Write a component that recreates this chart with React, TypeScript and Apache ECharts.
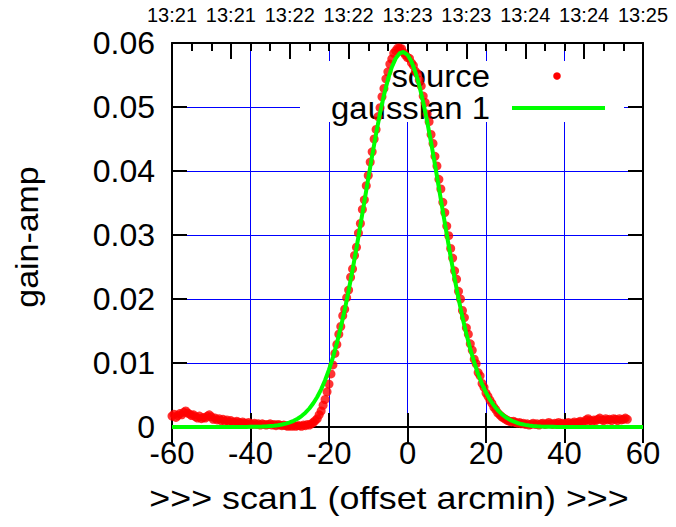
import React, { useEffect, useRef } from "react";
import * as echarts from "echarts";

// top-axis time labels (one per 15 arcmin)
const timeLabels = ["13:21", "13:21", "13:22", "13:22", "13:23", "13:23", "13:24", "13:24", "13:25"];

// grid line positions
const gridXValues = [-40, -20, 0, 20, 40];
const gridYValues = [0.01, 0.02, 0.03, 0.04, 0.05];

// source points: x from -60 step 0.5
const sourceStart = -60;
const sourceStep = 0.5;
const sourceValues = [
  0.0017, 0.0020, 0.0015, 0.0018, 0.0021, 0.0019, 0.0023, 0.0025, 0.0022, 0.0020,
  0.0018, 0.0019, 0.0016, 0.0014, 0.0017, 0.0013, 0.0015, 0.0014, 0.0017, 0.0019,
  0.0016, 0.0012, 0.0014, 0.0011, 0.0013, 0.0010, 0.0012, 0.0009, 0.0011, 0.0008,
  0.0010, 0.0008, 0.0007, 0.0009, 0.0007, 0.0006, 0.0008, 0.0006, 0.0005, 0.0007,
  0.0005, 0.0004, 0.0006, 0.0004, 0.0005, 0.0003, 0.0005, 0.0004, 0.0003, 0.0004,
  0.0005, 0.0003, 0.0004, 0.0002, 0.0004, 0.0003, 0.0002, 0.0003, 0.0002, 0.0001,
  0.0002,
  0.0001, 0.0002, 0.0001, 0.0002, 0.0002, 0.0001, 0.0003, 0.0002, 0.0004, 0.0003,
  0.0005, 0.0007, 0.0010, 0.0013, 0.0019, 0.0025, 0.0034, 0.0043, 0.0055, 0.0067,
  0.0083, 0.0097, 0.0115, 0.0129, 0.0145, 0.0157,
  0.0174, 0.0184, 0.0202, 0.0214, 0.0234, 0.0247, 0.0268, 0.0281, 0.0303, 0.0318,
  0.0340, 0.0355, 0.0377, 0.0393, 0.0414, 0.0430, 0.0450, 0.0465, 0.0485, 0.0499,
  0.0516, 0.0529, 0.0544, 0.0555, 0.0567, 0.0575, 0.0584, 0.0588, 0.0592, 0.0592,
  0.0591, 0.0585, 0.0581,
  0.0577, 0.0576, 0.0569, 0.0565, 0.0556, 0.0552, 0.0542, 0.0533, 0.0517, 0.0507,
  0.0489, 0.0477, 0.0457, 0.0443, 0.0423, 0.0408, 0.0387, 0.0372, 0.0351, 0.0335,
  0.0314, 0.0299, 0.0279, 0.0264, 0.0244, 0.0231, 0.0212, 0.0200, 0.0182, 0.0171,
  0.0155, 0.0145, 0.0130, 0.0120, 0.0106, 0.0099, 0.0085, 0.0080, 0.0068, 0.0062,
  0.0053, 0.0048, 0.0042, 0.0037, 0.0031, 0.0027, 0.0022, 0.0019, 0.0016, 0.0014,
  0.0012, 0.0010, 0.0009, 0.0008, 0.0009, 0.0007, 0.0006, 0.0007, 0.0005, 0.0006,
  0.0004,
  0.0005, 0.0003, 0.0004, 0.0006, 0.0004, 0.0005, 0.0003, 0.0005, 0.0006, 0.0004,
  0.0005, 0.0007, 0.0005, 0.0004, 0.0006, 0.0005, 0.0007, 0.0005, 0.0006, 0.0004,
  0.0006, 0.0007, 0.0005, 0.0006, 0.0008, 0.0006, 0.0007, 0.0009, 0.0007, 0.0008,
  0.0011, 0.0013, 0.0010, 0.0009, 0.0011, 0.0010, 0.0012, 0.0014, 0.0011, 0.0010,
  0.0013, 0.0011, 0.0012, 0.0010, 0.0013, 0.0012, 0.0010, 0.0013, 0.0011, 0.0012,
  0.0014, 0.0012,
];

// gaussian fit: x from -60 step 1
const fitStart = -60;
const fitStep = 1;
const fitValues = [
  0, 0, 0, 0, 0, 0, 0, 0, 0, 0,
  0, 0, 0, 0, 0, 0, 0, 0, 0, 0,
  0.00002, 0.00003, 0.00004, 0.00006, 0.00009, 0.00014, 0.00019, 0.00027, 0.00038, 0.00052,
  0.00071, 0.00097, 0.00129, 0.00171, 0.00223, 0.00289, 0.0037, 0.00469, 0.00588, 0.0073,
  0.00896, 0.01088, 0.01308, 0.01555, 0.0183, 0.0213, 0.02454, 0.02796, 0.03153, 0.03518,
  0.03883, 0.04241, 0.04584, 0.04901, 0.05185, 0.05427, 0.05621, 0.0576, 0.0584, 0.05859,
  0.05815, 0.05711, 0.05549, 0.05336, 0.05076, 0.04777, 0.04449, 0.041, 0.03737, 0.03371,
  0.03009, 0.02657, 0.02322, 0.02007, 0.01716, 0.01453, 0.01217, 0.01008, 0.00826, 0.0067,
  0.00538, 0.00427, 0.00336, 0.00261, 0.00201, 0.00153, 0.00115, 0.00086, 0.00063, 0.00046,
  0.00033, 0.00024, 0.00017, 0.00012, 0.00008, 0.00005, 0.00004, 0.00002,
  0, 0, 0, 0, 0, 0, 0, 0, 0, 0,
  0, 0, 0, 0, 0, 0, 0, 0, 0, 0,
  0, 0, 0,
];

const FONT = "'Liberation Sans', Arial, Helvetica, sans-serif";
const BLACK = "#000000";
const GRID_BLUE = "#0000ff";

export default function App() {
  const ref = useRef<HTMLDivElement>(null);

  useEffect(() => {
    if (!ref.current) return;
    const chart = echarts.init(ref.current, undefined, { renderer: "svg" });

    const axisLine = { show: true, onZero: false, lineStyle: { color: BLACK, width: 2 } };
    const tick = (len: number) => ({ show: true, inside: true, length: len, lineStyle: { color: BLACK, width: 2 } });

    const option: any = {
      animation: false,
      backgroundColor: "#ffffff",
      textStyle: { fontFamily: FONT },
      grid: { left: 172, top: 43, right: 33, bottom: 100, containLabel: false },
      xAxis: [
        {
          type: "value",
          position: "bottom",
          min: -60,
          max: 60,
          interval: 20,
          axisLine,
          axisTick: tick(14),
          axisLabel: {
            show: true, margin: 13, fontSize: 31, lineHeight: 26, color: BLACK, fontFamily: FONT,
            showMinLabel: true, showMaxLabel: true,
          },
          splitLine: { show: false },
        },
        {
          type: "value",
          position: "top",
          min: -60,
          max: 60,
          interval: 15,
          axisLine,
          axisTick: tick(16),
          minorTick: { show: true, splitNumber: 3, length: 8, lineStyle: { color: BLACK, width: 2 } },
          minorSplitLine: { show: false },
          axisLabel: {
            show: true,
            margin: 18,
            fontSize: 20,
            color: BLACK,
            fontFamily: FONT,
            showMinLabel: true,
            showMaxLabel: true,
            formatter: (v: number) => timeLabels[Math.round((v + 60) / 15)] ?? "",
          },
          splitLine: { show: false },
        },
        {
          type: "value",
          position: "top",
          min: -60,
          max: 60,
          interval: 20,
          axisLine: { show: false },
          axisTick: tick(16),
          axisLabel: { show: false },
          splitLine: { show: false },
        },
      ],
      yAxis: [
        {
          type: "value",
          position: "left",
          min: 0,
          max: 0.06,
          interval: 0.01,
          axisLine,
          axisTick: tick(15),
          axisLabel: {
            show: true,
            margin: 17,
            fontSize: 32,
            lineHeight: 24,
            color: BLACK,
            fontFamily: FONT,
            formatter: (v: number) => (Math.abs(v) < 1e-9 ? "0" : v.toFixed(2)),
          },
          splitLine: { show: false },
        },
        {
          type: "value",
          position: "right",
          min: 0,
          max: 0.06,
          interval: 0.01,
          axisLine,
          axisTick: tick(15),
          axisLabel: { show: false },
          splitLine: { show: false },
        },
      ],
      graphic: [
        { type: "rect", z: 1, silent: true, shape: { x: 300, y: 61, width: 324, height: 61 }, style: { fill: "#ffffff" } },
        {
          type: "text", z: 1, x: 490, y: 76, scaleX: 1.06,
          style: { text: "source", fontSize: 31, fontFamily: FONT, fill: BLACK, align: "right", verticalAlign: "middle" },
        },
        {
          type: "text", z: 1, x: 490, y: 108, scaleX: 1.06,
          style: { text: "gaussian 1", fontSize: 31, fontFamily: FONT, fill: BLACK, align: "right", verticalAlign: "middle" },
        },
        { type: "circle", z: 5, shape: { cx: 557, cy: 76, r: 3.8 }, style: { fill: "#ff0000" } },
        { type: "line", z: 5, shape: { x1: 512, y1: 108, x2: 605, y2: 108 }, style: { stroke: "#00ff00", lineWidth: 4 } },
        {
          type: "text", z: 5, x: 389, y: 498, scaleX: 1.12,
          style: { text: ">>> scan1 (offset arcmin) >>>", fontSize: 32, fontFamily: FONT, fill: BLACK, align: "center", verticalAlign: "middle" },
        },
        {
          type: "text", z: 5, x: 27, y: 237, rotation: Math.PI / 2, scaleX: 1.06,
          style: { text: "gain-amp", fontSize: 32, fontFamily: FONT, fill: BLACK, align: "center", verticalAlign: "middle" },
        },
      ],
      series: [
        {
          type: "line",
          name: "grid",
          xAxisIndex: 0,
          yAxisIndex: 0,
          silent: true,
          z: 0,
          zlevel: 0,
          data: [],
          markLine: {
            silent: true,
            z: 0,
            symbol: ["none", "none"],
            label: { show: false },
            lineStyle: { color: GRID_BLUE, width: 1, type: "solid", opacity: 1 },
            emphasis: { disabled: true },
            data: [
              ...gridXValues.map((v) => ({ xAxis: v })),
              ...gridYValues.map((v) => ({ yAxis: v })),
            ],
          },
        },
        {
          type: "scatter",
          name: "source",
          xAxisIndex: 0,
          yAxisIndex: 0,
          silent: true,
          z: 2,
          symbol: "circle",
          symbolSize: 9,
          itemStyle: { color: "#ff0000" },
          data: sourceValues.map((v, i) => [sourceStart + i * sourceStep, v]),
        },
        {
          type: "line",
          name: "gaussian 1",
          xAxisIndex: 0,
          yAxisIndex: 0,
          silent: true,
          z: 3,
          showSymbol: false,
          symbol: "none",
          lineStyle: { color: "#00ff00", width: 4 },
          data: fitValues.map((v, i) => [fitStart + i * fitStep, v]),
        },
      ],
    };

    chart.setOption(option);
    return () => chart.dispose();
  }, []);

  return (
    <div
      ref={ref}
      style={{ position: "fixed", left: 0, top: 0, width: 676, height: 527, background: "#ffffff" }}
    />
  );
}
